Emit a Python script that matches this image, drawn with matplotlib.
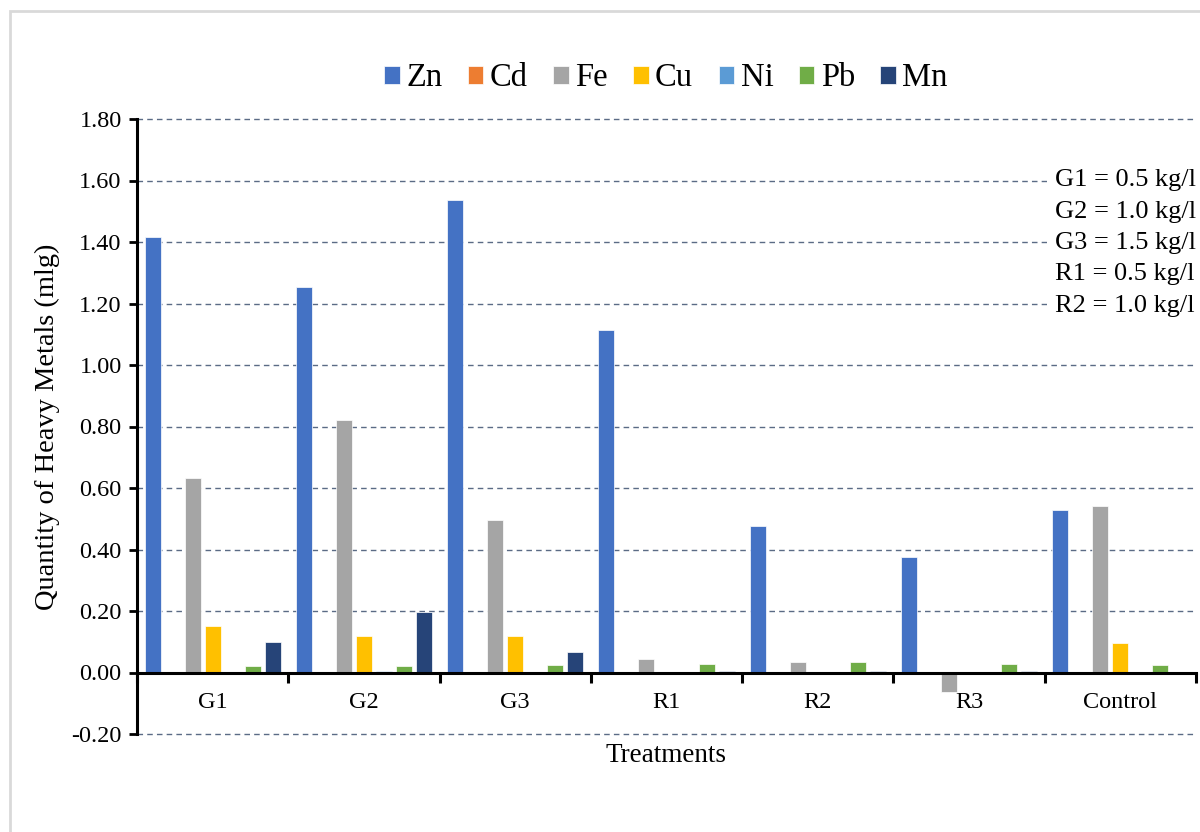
import matplotlib
matplotlib.use("Agg")
import matplotlib.pyplot as plt
import numpy as np
from matplotlib.patches import Rectangle

categories = ["G1", "G2", "G3", "R1", "R2", "R3", "Control"]
metals = ["Zn", "Cd", "Fe", "Cu", "Ni", "Pb", "Mn"]
zn = [1.416, 1.255, 1.538, 1.114, 0.476, 0.376, 0.530]
cd = [0.0, 0.0, 0.0, 0.0, 0.0, 0.0, 0.0]
fe = [0.634, 0.820, 0.495, 0.044, 0.035, -0.064, 0.540]
cu = [0.152, 0.118, 0.118, 0.0, 0.0, 0.0, 0.095]
ni = [0.0, 0.005, 0.0, 0.0, -0.003, -0.005, -0.005]
pb = [0.020, 0.020, 0.026, 0.029, 0.033, 0.029, 0.026]
mn = [0.099, 0.196, 0.068, 0.005, 0.005, 0.005, 0.0]
series = [zn, cd, fe, cu, ni, pb, mn]
colors = ["#4472C4", "#ED7D31", "#A5A5A5", "#FFC000", "#5B9BD5", "#70AD47", "#264478"]
yticks = [-0.2, 0.0, 0.2, 0.4, 0.6, 0.8, 1.0, 1.2, 1.4, 1.6, 1.8]
notes = ["G1 = 0.5 kg/l", "G2 = 1.0 kg/l", "G3 = 1.5 kg/l", "R1 = 0.5 kg/l", "R2 = 1.0 kg/l"]

plt.rcParams['font.family'] = ['Liberation Serif', 'DejaVu Serif']

fig = plt.figure(figsize=(12, 8.32), dpi=100)
# outer chart frame
fig.patches.append(Rectangle((10/1200, -0.05), 1.2, 1 - 11/832 + 0.05, transform=fig.transFigure,
                             fill=False, edgecolor="#D9D9D9", linewidth=2, zorder=0))

ax = fig.add_axes([137/1200, 1 - 734/832, (1196 - 137)/1200, (734 - 119)/832])

x = np.arange(len(categories))
slot = 20/151
bw = 16/151
n = len(metals)
for i, (m, vals, c) in enumerate(zip(metals, series, colors)):
    offs = (i - (n - 1)/2) * slot
    ax.bar(x + offs, vals, width=bw, color=c, label=m, zorder=3,
           edgecolor="white", linewidth=0.5)

ax.set_xlim(-0.5, len(categories) - 0.5)
ax.set_ylim(-0.2, 1.8)
ax.set_yticks(yticks)
ax.set_yticklabels([f"{v:.2f}" for v in yticks], fontsize=17.5)
ax.yaxis.grid(True, linestyle=(0, (4, 3)), color="#5B6B85", linewidth=1.0, zorder=0)
for gl in ax.get_ygridlines():
    gl.set_clip_on(False)
ax.set_axisbelow(True)

ax.spines['top'].set_visible(False)
ax.spines['right'].set_visible(False)
ax.spines['bottom'].set_position(('data', 0))
ax.spines['bottom'].set_linewidth(2.2)
ax.spines['left'].set_linewidth(2.2)
ax.spines['bottom'].set_zorder(4)

ax.set_xticks(np.arange(-0.5, len(categories), 1.0))
ax.set_xticklabels([])
ax.tick_params(axis='x', which='major', direction='out', length=7, width=2.2)
ax.set_xticks(x, minor=True)
ax.set_xticklabels(categories, minor=True, fontsize=17.5)
ax.tick_params(axis='x', which='minor', length=0, pad=14)
ax.tick_params(axis='y', direction='out', length=6, width=2, labelsize=17.5, pad=5)

ax.set_ylabel("Quantity of Heavy Metals (mlg)", fontsize=20.5, labelpad=8)
fig.text(666/1200, 1 - 755/832, "Treatments", ha='center', va='center', fontsize=19.5)

leg = ax.legend(loc='center', bbox_to_anchor=(666/1200, 1 - 78/832), bbox_transform=fig.transFigure,
                ncol=7, frameon=False, fontsize=23.5, handlelength=0.47, handleheight=0.47,
                handletextpad=0.2, columnspacing=0.78)

fig.text(1055/1200, 1 - 243/832, "\n".join(notes), ha='left', va='center', fontsize=19,
         linespacing=1.55, zorder=5,
         bbox=dict(boxstyle='square,pad=0.3', facecolor='white', edgecolor='none'))

fig.savefig("out.png", dpi=100)
